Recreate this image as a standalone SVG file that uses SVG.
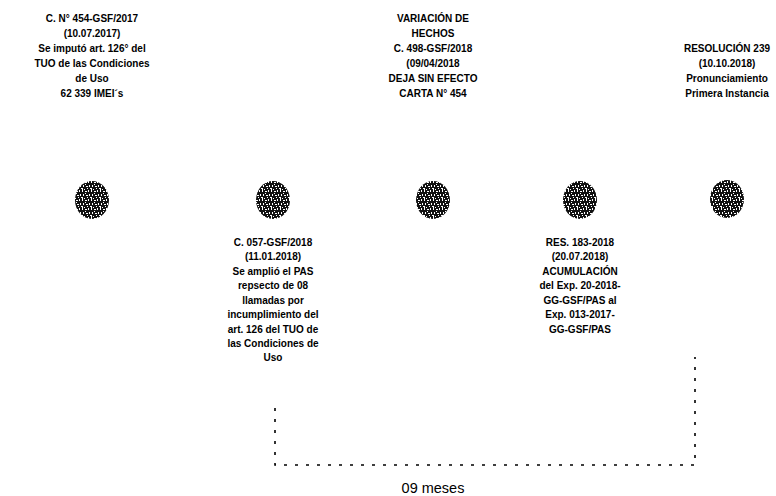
<svg xmlns="http://www.w3.org/2000/svg" width="776" height="496" viewBox="0 0 776 496">
<defs>
<pattern id="spk" width="9" height="9" patternUnits="userSpaceOnUse">
<rect width="9" height="9" fill="#111"/>
<rect x="1" y="0" width="1" height="3" fill="#fff"/>
<rect x="4" y="2" width="2" height="1" fill="#fff"/>
<rect x="7" y="1" width="1" height="2" fill="#fff"/>
<rect x="2" y="5" width="1" height="2" fill="#fff"/>
<rect x="5" y="6" width="2" height="1" fill="#fff"/>
<rect x="8" y="5" width="1" height="2" fill="#fff"/>
<rect x="0" y="8" width="2" height="1" fill="#fff"/>
<rect x="4" y="4" width="1" height="1" fill="#fff"/>
<rect x="6" y="8" width="1" height="1" fill="#fff"/>
<rect x="3" y="0" width="1" height="1" fill="#fff"/>
</pattern>
</defs>
<style>
.t{font-family:"Liberation Sans",Arial,sans-serif;font-size:10px;font-weight:bold;fill:#000;text-anchor:middle}
.dot{fill:url(#spk)}
.dash{fill:none;stroke:#000;stroke-width:1.6;stroke-dasharray:3 8}
.m{font-family:"Liberation Sans",Arial,sans-serif;font-size:14.5px;fill:#000;text-anchor:middle}
</style>
<rect width="776" height="496" fill="#fff"/>
<g id="n1">
<text class="t" x="92" y="22">C. N° 454-GSF/2017</text>
<text class="t" x="92" y="37">(10.07.2017)</text>
<text class="t" x="92" y="52">Se imputó art. 126° del</text>
<text class="t" x="92" y="67">TUO de las Condiciones</text>
<text class="t" x="92" y="82">de Uso</text>
<text class="t" x="92" y="97">62 339 IMEI´s</text>
<ellipse class="dot" cx="92" cy="200" rx="17" ry="19"/>
</g>
<g id="n2">
<ellipse class="dot" cx="273" cy="200" rx="17" ry="19"/>
<text class="t" x="273" y="246">C. 057-GSF/2018</text>
<text class="t" x="273" y="260">(11.01.2018)</text>
<text class="t" x="273" y="275">Se amplió el PAS</text>
<text class="t" x="273" y="289">repsecto de 08</text>
<text class="t" x="273" y="304">llamadas por</text>
<text class="t" x="273" y="318">incumplimiento del</text>
<text class="t" x="273" y="333">art. 126 del TUO de</text>
<text class="t" x="273" y="347">las Condiciones de</text>
<text class="t" x="273" y="361">Uso</text>
</g>
<g id="n3">
<text class="t" x="433" y="22">VARIACIÓN DE</text>
<text class="t" x="433" y="37">HECHOS</text>
<text class="t" x="433" y="52">C. 498-GSF/2018</text>
<text class="t" x="433" y="67">(09/04/2018</text>
<text class="t" x="433" y="82">DEJA SIN EFECTO</text>
<text class="t" x="433" y="97">CARTA N° 454</text>
<ellipse class="dot" cx="433" cy="200" rx="17" ry="19"/>
</g>
<g id="n4">
<ellipse class="dot" cx="580" cy="200" rx="17" ry="19"/>
<text class="t" x="580" y="246">RES. 183-2018</text>
<text class="t" x="580" y="260">(20.07.2018)</text>
<text class="t" x="580" y="275">ACUMULACIÓN</text>
<text class="t" x="580" y="289">del Exp. 20-2018-</text>
<text class="t" x="580" y="304">GG-GSF/PAS al</text>
<text class="t" x="580" y="318">Exp. 013-2017-</text>
<text class="t" x="580" y="333">GG-GSF/PAS</text>
</g>
<g id="n5">
<text class="t" x="727" y="52">RESOLUCIÓN 239</text>
<text class="t" x="727" y="67">(10.10.2018)</text>
<text class="t" x="727" y="82">Pronunciamiento</text>
<text class="t" x="727" y="97">Primera Instancia</text>
<ellipse class="dot" cx="727" cy="199" rx="17" ry="19"/>
</g>
<g id="connectors">
<path class="dash" d="M275 408 V465 H695 V357"/>
</g>
<text class="m" x="433" y="493">09 meses</text>
</svg>
